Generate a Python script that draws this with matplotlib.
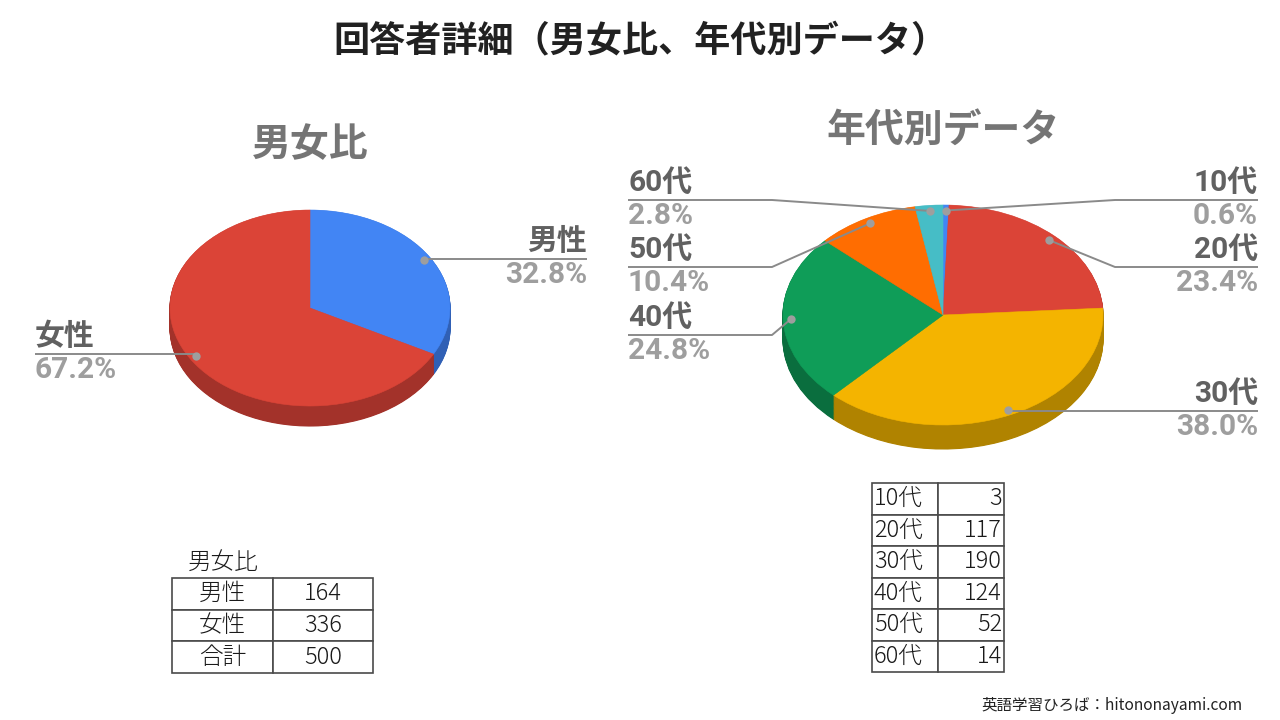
import matplotlib
matplotlib.use("Agg")
import matplotlib.pyplot as plt
import numpy as np

plt.rcParams['font.family'] = ['Noto Sans CJK JP', 'DejaVu Sans']

title = "回答者詳細（男女比、年代別データ）"
sexTitle = "男女比"
sexLabels = ["男性", "女性"]
sexCounts = [164, 336]
ageTitle = "年代別データ"
ageLabels = ["10代", "20代", "30代", "40代", "50代", "60代"]
ageCounts = [3, 117, 190, 124, 52, 14]
totalLabel = "合計"
footer = "英語学習ひろば：hitononayami.com"

sexColors = ["#4285F4", "#DB4437"]
sexSides = ["#3060B5", "#A3322A"]
ageColors = ["#4285F4", "#DB4437", "#F4B400", "#0F9D58", "#FF6D01", "#46BDC6"]
ageSides = ["#3060B5", "#A3322A", "#B08300", "#0A6E3E", "#BF5201", "#348E94"]

W, H = 1280, 720
fig = plt.figure(figsize=(12.8, 7.2), dpi=100)
fig.patch.set_facecolor("white")


def pie3d(cx, cy, rx, ry, depth, values, tops, sides):
    ax = fig.add_axes([(cx - rx) / W, 1 - (cy + ry + depth) / H,
                       2 * rx / W, (2 * ry + depth) / H])
    d = depth / ry
    layers = [(k, sides, 0.8) for k in np.linspace(d, 0.0, 30)[:-1]]
    layers.append((0.0, tops, 0.4))
    for k, cols, lw in layers:
        wedges, _ = ax.pie(values, colors=cols, startangle=90, counterclock=False,
                           center=(0, -k), radius=1)
        for w in wedges:
            w.set_edgecolor(w.get_facecolor())
            w.set_linewidth(lw)
    ax.set_aspect("auto")
    ax.set_xlim(-1, 1)
    ax.set_ylim(-1 - d, 1)
    ax.axis("off")
    return ax


def anchors(ax, values, r=0.95):
    # wedge mid points on the top surface
    v = np.array(values, dtype=float)
    frac = v / v.sum()
    start = np.concatenate([[0], np.cumsum(frac)[:-1]])
    theta = np.deg2rad(90 - 360 * (start + frac / 2))
    pts = np.column_stack([r * np.cos(theta), r * np.sin(theta)])
    disp = ax.transData.transform(pts)
    return over.transData.inverted().transform(disp)


axL = pie3d(310, 308, 140, 98, 20, sexCounts, sexColors, sexSides)
axR = pie3d(943, 315, 160, 110, 24, ageCounts, ageColors, ageSides)

over = fig.add_axes([0, 0, 1, 1])
over.set_xlim(0, W)
over.set_ylim(H, 0)
over.axis("off")

over.text(640, 42, title, ha="center", va="center", fontsize=26,
          fontweight="bold", color="#212121")
over.text(310, 145, sexTitle, ha="center", va="center", fontsize=28,
          fontweight="bold", color="#757575")
over.text(943, 130, ageTitle, ha="center", va="center", fontsize=28,
          fontweight="bold", color="#757575")

labFont = ["Roboto", "Noto Sans CJK JP"]


def leader(pts, labels, counts, specs):
    total = sum(counts)
    for (px, py), lab, c, (side, tx, ly, ex) in zip(pts, labels, counts, specs):
        ha = "right" if side == "r" else "left"
        if ex is None:
            ex = px
        over.plot([tx, ex, px], [ly, ly, py], color="#8a8a8a", lw=1.4,
                  solid_capstyle="butt", zorder=3)
        over.plot(px, py, "o", ms=6, color="#9e9e9e", mec="none", zorder=4)
        over.text(tx, ly - 3, lab, ha=ha, va="bottom", fontsize=21.5,
                  fontweight="bold", color="#616161", family=labFont)
        over.text(tx, ly + 2, "%.1f%%" % (100.0 * c / total), ha=ha, va="top",
                  fontsize=21.5, fontweight="bold", color="#9e9e9e", family=labFont)


leader(anchors(axL, sexCounts), sexLabels, sexCounts,
       [("r", 587, 259, None), ("l", 35, 354, None)])
leader(anchors(axR, ageCounts), ageLabels, ageCounts,
       [("r", 1258, 200, 1115), ("r", 1258, 267, 1115), ("r", 1258, 411, None),
        ("l", 628, 335, 772), ("l", 628, 267, 772), ("l", 628, 200, 772)])


def table(x0, y0, x1, y1, rows, aligns):
    tax = fig.add_axes([x0 / W, 1 - y1 / H, (x1 - x0) / W, (y1 - y0) / H])
    tax.axis("off")
    tb = tax.table(cellText=rows, bbox=[0, 0, 1, 1], cellLoc="center")
    tb.auto_set_font_size(False)
    tb.set_fontsize(17)
    for (r, c), cell in tb.get_celld().items():
        cell.set_edgecolor("#4a4a4a")
        cell.set_linewidth(1.2)
        cell.PAD = 0.03
        cell.get_text().set_ha(aligns[c])
        cell.get_text().set_color("#1a1a1a")
        cell.get_text().set_fontweight("light")
    return tb


sexRows = [[lab, str(c)] for lab, c in zip(sexLabels, sexCounts)]
sexRows.append([totalLabel, str(sum(sexCounts))])
over.text(188, 562, sexTitle, ha="left", va="center", fontsize=17,
          color="#1a1a1a", fontweight="light")
table(172, 578, 373, 673, sexRows, ["center", "center"])

ageRows = [[lab, str(c)] for lab, c in zip(ageLabels, ageCounts)]
table(872, 483, 1004, 672, ageRows, ["left", "right"])

over.text(1243, 705, footer, ha="right", va="center", fontsize=11.2, color="#222222")

fig.savefig("out.png", dpi=100, facecolor="white")
